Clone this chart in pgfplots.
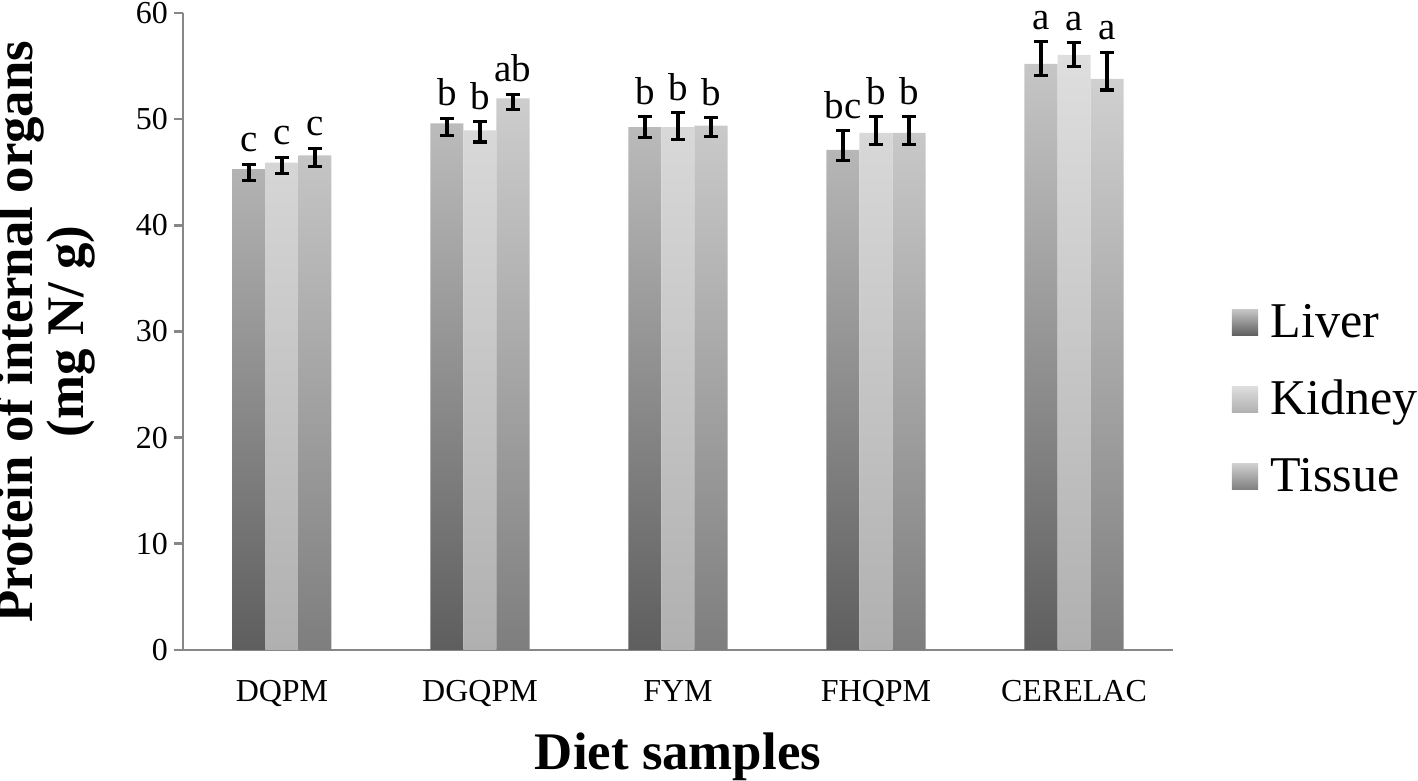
\documentclass[border=0pt]{standalone}
\usepackage{fontspec}
\setmainfont{Liberation Serif}
\usepackage{pgfplots}
\usepackage{pgfplotstable}
\pgfplotsset{compat=1.18}

% x = diet sample index, y = mean, ep/em = error plus/minus, lab = letter
\pgfplotstableread{
x y     ep   em   lab
0 45.3  0.45 1.05 c
1 49.6  0.5  1.1  b
2 49.25 0.97 1.0  b
3 47.1  1.8  1.0  bc
4 55.2  2.1  1.05 a
}\liver
\pgfplotstableread{
x y     ep   em   lab
0 45.9  0.5  1.0  c
1 48.95 0.8  1.1  b
2 49.25 1.35 1.15 b
3 48.7  1.55 1.05 b
4 56.05 1.15 1.05 a
}\kidney
\pgfplotstableread{
x y     ep   em   lab
0 46.6  0.65 1.05 c
1 51.95 0.4  1.0  ab
2 49.4  0.75 1.0  b
3 48.7  1.55 1.05 b
4 53.8  2.5  1.05 a
}\tissue

\definecolor{axisgray}{HTML}{878787}

\begin{document}
\begin{tikzpicture}
\begin{axis}[
    scale only axis,
    width=356pt, height=229pt,
    xmin=-0.5, xmax=4.5,
    ymin=0, ymax=60,
    xtick=data,
    xticklabels={DQPM,DGQPM,FYM,FHQPM,CERELAC},
    ytick={0,10,...,60},
    axis x line*=bottom,
    axis y line*=left,
    axis line style={axisgray, line width=0.9pt, -},
    x tick style={draw=none},
    y tick style={axisgray, line width=0.9pt},
    tick align=outside,
    major tick length=3.4pt,
    tick label style={font=\fontsize{11.5}{13}\selectfont},
    /pgf/number format/assume math mode=true,
    xticklabel style={yshift=-4pt},
    yticklabel style={xshift=1.5pt},
    xlabel={\textbf{Diet samples}},
    xlabel style={font=\fontsize{19}{20}\selectfont, at={(axis description cs:0.5,0)}, anchor=base, yshift=-43pt},
    ylabel={\textbf{Protein of internal organs}\\\textbf{(mg N/ g)}},
    ylabel style={font=\fontsize{19}{12}\selectfont, align=center, inner sep=0pt, at={(axis description cs:0,0.5)}, anchor=south, yshift=31.5pt},
    ybar,
    bar width=0.1667,
    legend style={at={(axis description cs:1,0.393)}, xshift=21pt, anchor=west,
        draw=none, fill=none, font=\fontsize{18}{20}\selectfont,
        row sep=10pt, inner sep=0pt, nodes={inner xsep=4.5pt}},
    legend cell align=left,
    legend image code/.code={\path[#1, draw=none] (0pt,-4.7pt) rectangle (9.4pt,4.7pt);},
    error bars/y dir=both,
    error bars/y explicit,
    error bars/error bar style={black, line width=1.1pt},
    error bars/error mark options={black, rotate=90, mark size=2.6pt, line width=1.1pt},
    every node near coord/.append style={font=\fontsize{14}{15}\selectfont, black, anchor=base, yshift=4.5pt},
]
\addplot[draw=none, bar shift=-0.1667, bottom color={rgb,255:red,94;green,94;blue,94}, top color={rgb,255:red,198;green,198;blue,198}]
    table[x=x, y=y, y error plus=ep, y error minus=em] {\liver};
\addlegendentry{Liver}
\addplot[draw=none, bar shift=0, bottom color={rgb,255:red,176;green,176;blue,176}, top color={rgb,255:red,222;green,222;blue,222}]
    table[x=x, y=y, y error plus=ep, y error minus=em] {\kidney};
\addlegendentry{Kidney}
\addplot[draw=none, bar shift=0.1667, bottom color={rgb,255:red,126;green,126;blue,126}, top color={rgb,255:red,208;green,208;blue,208}]
    table[x=x, y=y, y error plus=ep, y error minus=em] {\tissue};
\addlegendentry{Tissue}

% letters above the error bars
\addplot[forget plot, draw=none, fill=none, bar shift=-0.1667, error bars/y dir=none, nodes near coords, point meta=explicit symbolic]
    table[x=x, y expr=\thisrow{y}+\thisrow{ep}, meta=lab] {\liver};
\addplot[forget plot, draw=none, fill=none, bar shift=0, error bars/y dir=none, nodes near coords, point meta=explicit symbolic]
    table[x=x, y expr=\thisrow{y}+\thisrow{ep}, meta=lab] {\kidney};
\addplot[forget plot, draw=none, fill=none, bar shift=0.1667, error bars/y dir=none, nodes near coords, point meta=explicit symbolic]
    table[x=x, y expr=\thisrow{y}+\thisrow{ep}, meta=lab] {\tissue};

\coordinate (ll) at (rel axis cs:0,0);
\coordinate (ur) at (rel axis cs:1,1);
\end{axis}
\pgfresetboundingbox
\path ([xshift=-65.8pt, yshift=-46.8pt]ll) rectangle ([xshift=88.1pt, yshift=4.7pt]ur);
\end{tikzpicture}
\end{document}
